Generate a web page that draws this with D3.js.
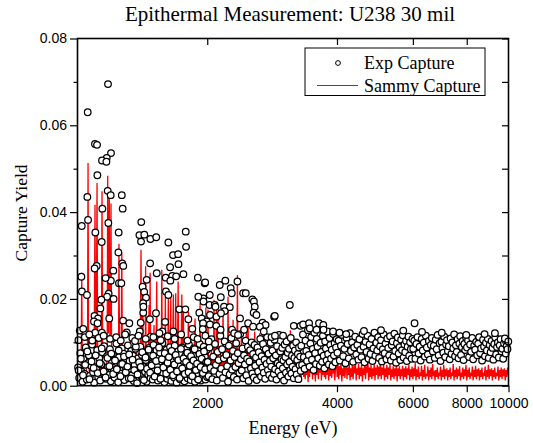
<!DOCTYPE html>
<html>
<head>
<meta charset="utf-8">
<script src="https://cdnjs.cloudflare.com/ajax/libs/d3/7.8.5/d3.min.js"></script>
<style>
  body { margin: 0; background: #fff; }
  svg text.serif { font-family: "Liberation Serif", "Times New Roman", Times, serif; font-weight: normal; }
</style>
</head>
<body>
<script>
// ---- DATA ----  energies in eV, yields in units of 1e-4

var xTickValues = [2000, 4000, 6000, 8000, 10000];
var yTickValues = [0, 0.02, 0.04, 0.06, 0.08];
var yMinorValues = [0.01, 0.03, 0.05, 0.07];

// exp capture, dense band 1000-2000 eV
var expLowE = [1003,1009,1015,1021,1027,1033,1039,1045,1051,1057,
  1063,1069,1075,1081,1087,1093,1099,1105,1111,1117,
  1123,1129,1135,1141,1147,1153,1159,1165,1171,1177,
  1183,1189,1195,1201,1207,1213,1219,1225,1231,1237,
  1243,1249,1255,1261,1267,1273,1279,1285,1291,1297,
  1303,1309,1315,1321,1327,1333,1339,1345,1351,1357,
  1363,1369,1375,1381,1387,1393,1399,1405,1411,1417,
  1423,1429,1435,1441,1447,1453,1459,1465,1471,1477,
  1483,1489,1495,1501,1507,1513,1519,1525,1531,1537,
  1543,1549,1555,1561,1567,1573,1579,1585,1591,1597,
  1603,1609,1615,1621,1627,1633,1639,1645,1651,1657,
  1663,1669,1675,1681,1687,1693,1699,1705,1711,1717,
  1723,1729,1735,1741,1747,1753,1759,1765,1771,1777,
  1783,1789,1795,1801,1807,1813,1819,1825,1831,1837,
  1843,1849,1855,1861,1867,1873,1879,1885,1891,1897,
  1903,1909,1915,1921,1927,1933,1939,1945,1951,1957,
  1963,1969,1975,1981,1987,1993,1999];
var expLowY = [42,18,75,33,9,61,27,88,14,52,70,23,46,95,31,7,58,38,82,20,
  64,12,49,77,29,91,36,16,68,44,25,84,10,55,72,34,19,60,97,40,
  8,66,28,50,86,21,74,13,45,62,30,93,17,57,39,80,24,69,11,48,
  85,35,6,63,27,53,90,22,71,15,43,78,32,59,9,67,26,87,41,18,
  73,51,14,94,37,60,23,81,47,12,65,33,76,20,56,98,29,44,8,70,
  38,83,16,61,25,49,89,34,11,75,42,58,19,92,31,66,7,53,79,27,
  46,15,72,36,88,22,57,40,10,68,30,84,48,17,63,95,26,51,13,77,
  39,60,21,86,44,9,71,33,55,18,80,28,64,96,37,12,58,74,24,47,
  90,32,67,14,52,82,20];

// second interleaved run of the low band
var expLow2E = [1006,1018,1030,1042,1054,1066,1078,1090,1102,1114,
  1126,1138,1150,1162,1174,1186,1198,1210,1222,1234,
  1246,1258,1270,1282,1294,1306,1318,1330,1342,1354,
  1366,1378,1390,1402,1414,1426,1438,1450,1462,1474,
  1486,1498,1510,1522,1534,1546,1558,1570,1582,1594,
  1606,1618,1630,1642,1654,1666,1678,1690,1702,1714,
  1726,1738,1750,1762,1774,1786,1798,1810,1822,1834,
  1846,1858,1870,1882,1894,1906,1918,1930,1942,1954,
  1966,1978,1990];
var expLow2Y = [35,62,24,48,79,15,56,41,70,29,
  52,86,33,19,64,45,74,27,58,38,
  81,22,50,67,31,44,72,17,60,36,
  90,26,54,43,77,13,65,39,83,30,
  47,69,21,57,35,88,16,61,42,75,
  28,53,66,37,80,24,49,71,33,59,
  18,85,40,63,27,55,76,31,46,68,
  22,58,84,36,51,14,73,43,62,29,
  79,38,55];

// exp capture, dense band 2000-3300 eV
var expMidE = [2005,2015,2025,2035,2045,2055,2065,2075,2085,2095,
  2105,2115,2125,2135,2145,2155,2165,2175,2185,2195,
  2205,2215,2225,2235,2245,2255,2265,2275,2285,2295,
  2305,2315,2325,2335,2345,2355,2365,2375,2385,2395,
  2405,2415,2425,2435,2445,2455,2465,2475,2485,2495,
  2505,2515,2525,2535,2545,2555,2565,2575,2585,2595,
  2605,2615,2625,2635,2645,2655,2665,2675,2685,2695,
  2705,2715,2725,2735,2745,2755,2765,2775,2785,2795,
  2805,2815,2825,2835,2845,2855,2865,2875,2885,2895,
  2905,2915,2925,2935,2945,2955,2965,2975,2985,2995,
  3005,3015,3025,3035,3045,3055,3065,3075,3085,3095,
  3105,3115,3125,3135,3145,3155,3165,3175,3185,3195,
  3205,3215,3225,3235,3245,3255,3265,3275,3285,3295];
var expMidY = [55,22,88,41,107,15,67,34,96,48,12,78,59,27,115,39,84,18,63,102,
  31,71,45,9,92,26,58,110,37,80,20,66,43,98,14,75,52,29,119,61,
  35,86,17,70,49,104,24,62,90,11,56,82,40,100,28,73,19,94,46,65,
  13,88,33,77,54,108,21,68,42,96,30,60,16,84,50,112,36,74,25,57,
  99,44,18,81,63,27,106,38,70,14,91,52,33,117,47,79,23,61,87,40,
  58,12,95,66,30,102,49,76,21,85,55,36,110,28,69,44,92,17,64,81,
  38,100,26,59,73,15,88,47,67,34];

// exp capture, band 3300-10000 eV
var expHighE = [3305,3320,3335,3350,3365,3380,3395,3410,3425,3440,3455,3470,3485,3500,3515,3530,
  3545,3560,3575,3590,3605,3620,3635,3650,3665,3680,3695,3710,3725,3740,3755,3770,3785,3800,
  3815,3830,3845,3860,3875,3890,3905,3920,3935,3950,3965,3980,3995,
  4010,4035,4060,4085,4110,4135,4160,4185,4210,4235,4260,4285,4310,4335,4360,4385,4410,4435,
  4460,4485,4510,4535,4560,4585,4610,4635,4660,4685,4710,4735,4760,4785,4810,4835,4860,4885,
  4910,4935,4960,4985,5010,5035,5060,5085,5110,5135,5160,5185,5210,5235,5260,5285,5310,5335,
  5360,5385,5410,5435,5460,5485,5510,5535,5560,5585,5610,5635,5660,5685,5710,5735,5760,5785,
  5810,5835,5860,5885,5910,5935,5960,5985,
  6010,6045,6080,6115,6150,6185,6220,6255,6290,6325,6360,6395,6430,6465,6500,6535,6570,6605,
  6640,6675,6710,6745,6780,6815,6850,6885,6920,6955,6990,7025,7060,7095,7130,7165,7200,7235,
  7270,7305,7340,7375,7410,7445,7480,7515,7550,7585,7620,7655,7690,7725,7760,7795,7830,7865,
  7900,7935,7970,
  8010,8055,8100,8145,8190,8235,8280,8325,8370,8415,8460,8505,8550,8595,8640,8685,8730,8775,
  8820,8865,8910,8955,9000,9045,9090,9135,9180,9225,9270,9315,9360,9405,9450,9495,9540,9585,
  9630,9675,9720,9765,9810,9855,9900,9945,9990];
var expHighY = [92,48,118,66,39,104,80,57,128,71,44,97,112,60,85,36,122,75,50,108,
  90,63,131,46,99,78,55,115,69,40,102,86,58,125,73,49,110,94,62,83,45,119,70,98,54,88,107,
  76,104,58,92,117,68,85,52,110,96,63,121,80,100,55,88,113,72,94,60,
  107,83,66,119,90,54,101,78,115,62,95,73,108,57,86,122,69,99,81,112,
  64,91,105,56,84,118,75,97,61,109,87,70,114,58,93,102,67,120,80,53,
  98,111,74,89,59,106,82,116,65,95,77,103,57,90,113,69,100,84,62,108,
  85,104,62,96,112,74,90,58,108,81,99,67,115,88,72,103,60,94,110,79,
  92,64,106,84,117,70,98,57,101,87,76,113,66,95,105,80,91,61,109,73,
  100,86,118,68,93,78,107,63,97,114,71,89,103,59,96,82,111,
  88,104,66,95,78,110,61,92,83,101,70,97,112,75,86,58,106,90,68,99,
  81,108,64,94,77,103,87,60,96,111,72,89,100,65,93,107,79,85,62,98,
  109,74,91,84,102];

// exp capture, scattered points above the band  [energy, yield]
var expScatter = [[1177,695],[1056,630],[1098,557],[1110,555],[1196,536],[1169,525],[1140,519],
  [1167,516],[1112,485],[1054,435],[1175,449],[1194,439],[1267,439],[1142,408],[1273,408],
  [1058,382],[1179,375],[1023,368],[1406,377],[1100,353],[1246,353],[1392,347],[1429,348],
  [1404,332],[1476,338],[1523,342],[1138,331],[1625,330],[1783,355],[1244,307],[1666,301],
  [1712,303],[1786,320],[1108,276],[1096,270],[1021,251],[1024,217],[1052,209],[1248,236],
  [1264,236],[1270,282],[1277,276],[1211,265],[1195,242],[1162,248],[1181,212],[1171,205],
  [1213,200],[1136,198],[1130,178],[1095,161],[1116,155],[1092,148],[1113,144],[1185,155],
  [1276,150],[1319,144],[1301,123],[1012,127],[1031,131],[1099,122],[1139,122],[1402,145],
  [1421,168],[1416,228],[1474,282],[1640,273],[1715,280],[1527,259],[1447,244],[1602,249],
  [1659,253],[1694,252],[1642,242],[1761,257],[1902,249],[1973,236],[1428,216],[1604,217],
  [1625,209],[1442,203],[1420,190],[1422,182],[1958,201],[1907,205],[1960,194],[1723,176],
  [1779,176],[1521,167],[1917,168],[1808,153],[1472,153],[1597,147],[1942,155],[1995,148],
  [1956,144],[1847,131],[1574,125],[1549,121],[1478,113],[1395,125],[1669,125],[1953,130],
  [1005,105],[1040,112],[1065,118],[1082,104],[1120,110],[1150,115],[1190,108],[1230,112],
  [1260,104],[1290,118],[1340,110],[1360,103],[1385,115],[1440,108],[1500,112],[1560,105],
  [1620,114],[1680,108],[1740,118],[1800,104],[1860,112],[1900,108],[1980,115],
  [1978,238],[2027,209],[2138,232],[2203,242],[2267,225],[2350,240],[2280,213],[2423,213],
  [2457,213],[2150,204],[2025,186],[2082,186],[2090,182],[2188,182],[2256,181],[2196,172],
  [2030,163],[2101,159],[2152,167],[2545,199],[2566,194],[2578,182],[2563,168],[2601,163],
  [2383,155],[2859,159],[2029,141],[2099,138],[2148,129],[2283,129],[2488,144],[2688,145],
  [2731,140],[2649,136],[2555,136],[2705,125],[2436,129],[2310,121],[2358,117],[2820,112],
  [2016,102],[3109,186],[2869,161],[3176,138],[3292,138],[3338,141],[3446,144],[3634,144],
  [3718,140],[3460,132],[3586,129],[3722,129],[3917,125],[4054,122],[4202,119],[2872,115],
  [2999,115],[6054,144],[7980,117],[4620,126],[5060,128],[5700,127],[6300,124],[7000,122],
  [8800,119],[9300,121]];

// sammy capture  [energy, yield]
var sammy = [[1003,20],[1010,35],[1016,22],[1020,60],[1023,260],[1026,45],[1032,18],[1038,30],
  [1044,25],[1050,40],[1055,80],[1058,513],[1061,60],[1066,25],[1072,35],[1078,20],[1083,45],
  [1088,30],[1093,70],[1098,417],[1101,90],[1105,60],[1110,467],[1114,55],[1120,25],[1126,40],
  [1132,30],[1136,70],[1140,448],[1144,50],[1150,28],[1156,35],[1162,22],[1168,40],[1172,90],
  [1175,484],[1179,120],[1185,445],[1189,100],[1193,110],[1196,420],[1200,60],[1206,30],
  [1212,45],[1218,25],[1224,38],[1230,30],[1236,50],[1242,35],[1245,80],[1248,327],[1252,60],
  [1258,40],[1263,70],[1267,307],[1271,45],[1277,25],[1283,40],[1289,30],[1295,55],[1301,35],
  [1307,28],[1312,95],[1316,40],[1320,30],[1326,110],[1330,30],[1336,45],[1342,25],[1348,90],
  [1352,35],[1358,50],[1364,30],[1370,120],[1374,40],[1380,30],[1386,55],[1392,35],[1398,80],
  [1404,313],[1408,70],[1412,60],[1417,230],[1421,50],[1427,40],[1432,90],[1436,60],[1439,275],
  [1443,50],[1449,30],[1455,45],[1460,60],[1466,186],[1470,80],[1474,260],[1478,50],[1484,35],
  [1490,60],[1495,40],[1500,70],[1505,140],[1509,45],[1515,30],[1521,60],[1527,240],[1531,45],
  [1537,30],[1543,80],[1548,40],[1554,70],[1560,35],[1565,90],[1569,267],[1573,50],[1579,30],
  [1585,60],[1590,35],[1595,80],[1599,205],[1603,40],[1609,50],[1615,30],[1620,70],[1625,213],
  [1629,45],[1635,35],[1641,60],[1646,203],[1650,40],[1656,30],[1662,80],[1669,210],[1673,40],
  [1679,30],[1685,60],[1690,213],[1694,45],[1700,35],[1706,70],[1712,240],[1716,50],[1722,30],
  [1728,55],[1734,40],[1740,90],[1746,210],[1750,70],[1754,60],[1761,182],[1765,40],[1771,30],
  [1777,60],[1783,35],[1790,80],[1796,40],[1802,55],[1809,170],[1813,40],[1820,30],[1827,70],
  [1834,40],[1840,90],[1846,35],[1853,60],[1860,30],[1867,100],[1874,155],[1878,40],[1885,30],
  [1892,60],[1899,35],[1906,80],[1912,40],[1919,60],[1925,190],[1930,60],[1936,40],[1943,60],
  [1950,30],[1957,75],[1964,40],[1971,55],[1978,35],[1985,180],[1990,45],[1997,30],[2004,60],
  [2008,175],[2013,40],[2021,30],[2029,70],[2037,40],[2045,90],[2052,35],[2060,60],[2067,30],
  [2074,198],[2079,45],[2087,35],[2094,60],[2101,175],[2106,40],[2112,50],[2119,159],[2124,35],
  [2132,60],[2140,30],[2148,80],[2156,40],[2164,55],[2170,35],[2176,190],[2182,40],[2190,30],
  [2198,70],[2206,40],[2214,90],[2222,35],[2229,50],[2235,205],[2241,45],[2249,30],[2257,60],
  [2265,35],[2273,80],[2281,40],[2289,60],[2296,152],[2302,40],[2310,30],[2318,55],[2326,35],
  [2334,90],[2342,45],[2350,255],[2356,50],[2364,30],[2372,60],[2380,35],[2388,70],[2395,40],
  [2401,136],[2407,45],[2416,30],[2424,60],[2432,35],[2441,80],[2449,40],[2457,55],[2466,146],
  [2472,60],[2480,50],[2488,140],[2494,40],[2503,30],[2512,60],[2521,35],[2530,80],[2539,40],
  [2548,55],[2557,30],[2566,70],[2578,125],[2584,40],[2593,30],[2602,60],[2611,35],[2620,80],
  [2629,40],[2638,55],[2648,121],[2655,35],[2664,50],[2673,30],[2682,70],[2689,40],[2695,120],
  [2702,40],[2711,60],[2720,105],[2727,35],[2736,50],[2746,30],[2756,70],[2766,40],[2776,55],
  [2785,35],[2794,113],[2802,40],[2812,30],[2822,60],[2832,35],[2842,70],[2852,40],[2862,55],
  [2872,30],[2882,60],[2895,98],[2903,35],[2913,50],[2923,30],[2934,60],[2944,35],[2954,55],
  [2965,30],[2975,60],[2990,90],[2998,25],[3009,50],[3020,15],[3031,60],[3042,25],[3053,55],
  [3064,12],[3075,70],[3086,30],[3097,55],[3108,60],[3118,128],[3126,25],[3137,50],[3148,15],
  [3160,60],[3171,25],[3183,55],[3194,10],[3206,60],[3222,98],[3230,25],[3242,50],[3254,12],
  [3266,55],[3278,25],[3290,50],[3302,10],[3314,55],[3326,25],[3338,71],
  [3350,20],[3362,45],[3375,15],[3388,50],[3401,25],[3414,55],[3428,8],[3441,40],[3455,20],
  [3468,52],[3482,30],[3496,62],[3510,15],[3522,69],[3536,25],[3550,45],[3564,10],[3578,50],
  [3593,25],[3607,58],[3622,15],[3636,45],[3651,30],[3666,55],[3681,12],[3696,48],[3711,25],
  [3726,52],[3741,20],[3749,70],[3764,15],[3779,45],[3795,25],[3810,55],[3826,12],[3841,42],
  [3857,22],[3873,50],[3889,18],[3905,45],[3921,28],[3937,55],[3953,12],[3970,40],[3990,71],
  [4003,20],[4020,48],[4036,15],[4053,45],[4070,25],[4087,55],[4104,10],[4121,40],[4138,22],
  [4155,50],[4172,18],[4189,45],[4202,69],[4219,15],[4236,42],[4254,25],[4271,52],[4289,12],
  [4306,40],[4324,20],[4342,48],[4360,15],[4378,45],[4396,28],[4414,55],[4432,12],[4451,40],
  [4469,25],[4488,50],[4506,15],[4525,42],[4544,22],[4563,48],[4582,10],[4601,40],[4620,25],
  [4640,52],[4659,15],[4679,45],[4698,30],[4718,55],[4738,12],[4758,42],[4778,20],[4798,48],
  [4818,15],[4838,40],[4859,22],[4879,50],[4900,12],[4920,42],[4941,25],[4962,48],[4983,15],
  [5004,44],[5025,22],[5046,60],[5068,15],[5089,42],[5111,25],[5132,50],[5154,12],[5176,40],
  [5198,20],[5220,48],[5242,15],[5264,42],[5287,25],[5309,50],[5332,12],[5354,38],[5377,20],
  [5400,45],[5423,15],[5446,40],[5469,22],[5492,48],[5515,10],[5538,40],[5561,22],[5585,45],
  [5608,15],[5632,38],[5656,22],[5680,46],[5704,12],[5728,40],[5752,20],[5776,45],[5800,15],
  [5825,40],[5849,25],[5874,48],[5899,12],[5924,38],[5949,20],[5974,44],[6000,15],[6025,40],
  [6050,22],[6076,52],[6101,12],[6127,38],[6153,20],[6179,44],[6205,15],[6231,30],[6258,22],
  [6284,46],[6311,12],[6338,36],[6364,20],[6391,48],[6418,15],[6445,28],[6473,22],[6500,44],
  [6528,12],[6555,36],[6583,20],[6611,42],[6639,15],[6667,50],[6695,22],[6724,35],[6752,12],
  [6781,36],[6810,20],[6839,42],[6868,15],[6897,30],[6926,22],[6955,44],[6985,12],[7015,36],
  [7045,20],[7075,48],[7105,15],[7135,38],[7165,22],[7196,40],[7226,12],[7257,36],[7288,20],
  [7319,42],[7350,15],[7381,30],[7412,22],[7444,50],[7476,12],[7508,36],[7540,20],[7572,42],
  [7604,15],[7636,38],[7669,22],[7701,45],[7734,12],[7767,30],[7800,20],[7833,42],[7867,15],
  [7900,38],[7934,22],[7968,48],[8002,12],[8036,36],[8070,20],[8105,42],[8139,15],[8174,30],
  [8209,22],[8244,44],[8279,12],[8315,36],[8350,20],[8386,46],[8422,15],[8458,38],[8494,22],
  [8530,40],[8567,12],[8603,36],[8640,20],[8677,42],[8714,15],[8752,30],[8789,22],[8827,44],
  [8865,12],[8903,36],[8941,20],[8980,48],[9018,15],[9057,38],[9096,22],[9135,40],[9174,12],
  [9214,36],[9254,20],[9293,42],[9333,15],[9374,30],[9414,22],[9455,44],[9495,12],[9536,36],
  [9577,20],[9618,42],[9660,15],[9701,38],[9743,22],[9785,40],[9827,12],[9870,36],[9912,20],
  [9955,42],[9998,25]];

var Y_UNIT = 1e-4;

// ---- CHART ----
var width = 533, height = 443;
var plot = { left: 77.5, right: 508.5, top: 38.5, bottom: 385.7 };
var SANS = "'Liberation Sans', Arial, Helvetica, sans-serif";

var svg = d3.select("body")
  .append("svg")
  .attr("width", width)
  .attr("height", height);

var x = d3.scaleLog()
  .domain([1000, 10000])
  .range([plot.left, plot.right]);

var y = d3.scaleLinear()
  .domain([0, 0.08])
  .range([plot.bottom, plot.top]);

// sammy line
var line = d3.line()
  .x(function (d) { return x(d[0]); })
  .y(function (d) { return y(d[1] * Y_UNIT); });

svg.append("path")
  .datum(sammy)
  .attr("d", line)
  .attr("fill", "none")
  .attr("stroke", "#ff0000")
  .attr("stroke-width", 1.3);

// exp points
var expPoints = d3.zip(expLowE, expLowY)
  .concat(d3.zip(expLow2E, expLow2Y))
  .concat(d3.zip(expMidE, expMidY))
  .concat(d3.zip(expHighE, expHighY))
  .concat(expScatter);

svg.append("g")
  .selectAll("circle")
  .data(expPoints)
  .enter().append("circle")
  .attr("cx", function (d) { return x(d[0]); })
  .attr("cy", function (d) { return y(d[1] * Y_UNIT); })
  .attr("r", 3.3)
  .attr("fill", "#fff")
  .attr("stroke", "#000")
  .attr("stroke-width", 1.25);

// axes
function styleAxis(g) {
  g.select(".domain").remove();
  g.selectAll(".tick line").attr("stroke", "#000").attr("stroke-width", 1.2);
  g.selectAll(".tick text")
    .attr("font-family", SANS)
    .attr("font-size", 14)
    .attr("fill", "#000");
}

svg.append("g")
  .attr("transform", "translate(0," + plot.bottom + ")")
  .call(d3.axisBottom(x).tickValues(xTickValues).tickFormat(d3.format("d"))
    .tickSize(6.5).tickPadding(6))
  .call(styleAxis);

svg.append("g")
  .attr("transform", "translate(0," + plot.top + ")")
  .call(d3.axisBottom(x).tickValues(xTickValues.slice(0, 4)).tickFormat("").tickSize(6.5))
  .call(styleAxis);

svg.append("g")
  .attr("transform", "translate(" + plot.left + ",0)")
  .call(d3.axisLeft(y).tickValues(yTickValues).tickFormat(d3.format(".2f"))
    .tickSize(7.5).tickPadding(3))
  .call(styleAxis);

svg.append("g")
  .attr("transform", "translate(" + plot.left + ",0)")
  .call(d3.axisLeft(y).tickValues(yMinorValues).tickFormat("").tickSize(4))
  .call(styleAxis);

svg.append("g")
  .attr("transform", "translate(" + plot.right + ",0)")
  .call(d3.axisLeft(y).tickValues(yTickValues.concat(yMinorValues)).tickFormat("").tickSize(6.5))
  .call(styleAxis);

// frame
svg.append("rect")
  .attr("x", plot.left)
  .attr("y", plot.top)
  .attr("width", plot.right - plot.left)
  .attr("height", plot.bottom - plot.top)
  .attr("fill", "none")
  .attr("stroke", "#000")
  .attr("stroke-width", 1.6);

// titles
svg.append("text")
  .attr("class", "serif")
  .attr("x", 290)
  .attr("y", 21)
  .attr("text-anchor", "middle")
  .style("font-size", "21px")
  .text("Epithermal Measurement: U238 30 mil");

svg.append("text")
  .attr("class", "serif")
  .attr("x", 293)
  .attr("y", 434)
  .attr("text-anchor", "middle")
  .style("font-size", "18px")
  .text("Energy (eV)");

svg.append("text")
  .attr("class", "serif")
  .attr("transform", "translate(27,213) rotate(-90)")
  .attr("text-anchor", "middle")
  .style("font-size", "17.5px")
  .text("Capture Yield");

// legend
var legend = svg.append("g").attr("class", "legend");

legend.append("rect")
  .attr("x", 305)
  .attr("y", 48)
  .attr("width", 180)
  .attr("height", 47.5)
  .attr("fill", "#fff")
  .attr("stroke", "#000")
  .attr("stroke-width", 1);

legend.append("circle")
  .attr("cx", 338)
  .attr("cy", 63)
  .attr("r", 2.4)
  .attr("fill", "#fff")
  .attr("stroke", "#000")
  .attr("stroke-width", 1);

legend.append("line")
  .attr("x1", 317).attr("x2", 358)
  .attr("y1", 85.5).attr("y2", 85.5)
  .attr("stroke", "#ff0000")
  .attr("stroke-width", 1);

legend.append("text")
  .attr("class", "serif")
  .attr("x", 364).attr("y", 69)
  .style("font-size", "18px")
  .text("Exp Capture");

legend.append("text")
  .attr("class", "serif")
  .attr("x", 364).attr("y", 92)
  .style("font-size", "18px")
  .text("Sammy Capture");
</script>
</body>
</html>
